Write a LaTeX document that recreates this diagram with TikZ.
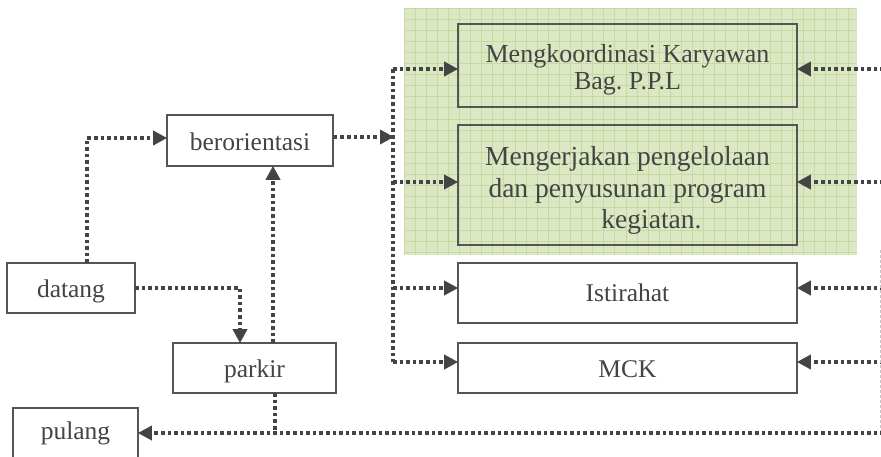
\documentclass[tikz,border=0pt]{standalone}
\usepackage{fontspec}
\setmainfont{Liberation Serif}
\usetikzlibrary{arrows.meta}
\frenchspacing

\definecolor{ink}{HTML}{444444}
\definecolor{edge}{HTML}{555555}
\definecolor{panel}{HTML}{DCE8C4}
\definecolor{panelgrid}{HTML}{C6D9A2}

% shift a label vertically without changing the box it occupies
\newcommand{\nudge}[2]{\raisebox{#1}[\height][\depth]{#2}}

\tikzset{
  stepbox/.style={draw=edge, line width=1.6pt, fill=white, text=ink,
    font=\fontsize{25.5}{30}\selectfont, inner sep=0pt, align=center},
  boxtext/.style={text=ink, inner sep=0pt, align=center},
  flow/.style={draw=ink, line width=3.6pt, dash pattern=on 3.6pt off 3pt},
  flowarrow/.style={flow, -{Triangle[length=14pt,width=14pt]}, shorten >=-1pt},
}

\begin{document}
\begin{tikzpicture}[x=1pt, y=-1pt]
  \useasboundingbox (0,0) rectangle (881,457);
  \clip (0,0) rectangle (881,457);

  % shaded panel behind the two work activities
  \fill[panel] (404,8) rectangle (857,255);
  \begin{scope}
    \clip (404,8) rectangle (857,255);
    \foreach \gx in {0,...,41} {
      \draw[panelgrid, line width=0.9pt] ({404+11.1*\gx},8) -- ({404+11.1*\gx},255);
    }
    \foreach \gy in {0,...,22} {
      \draw[panelgrid, line width=0.9pt] (404,{8+11.1*\gy}) -- (857,{8+11.1*\gy});
    }
  \end{scope}

  % activity boxes
  \node[stepbox, minimum width=166pt, minimum height=51pt] (orient) at (250,140.5) {\nudge{-1.5pt}{berorientasi}};
  \node[stepbox, minimum width=128pt, minimum height=50pt] (datang) at (71,288) {\nudge{-3pt}{datang}};
  \node[stepbox, minimum width=163pt, minimum height=50pt] (parkir) at (254.5,368) {\nudge{-3pt}{parkir}};
  \node[stepbox, minimum width=125pt, minimum height=56pt] (pulang) at (75.5,436) {\nudge{3pt}{pulang}};

  \node[stepbox, fill=none, minimum width=339pt, minimum height=83pt] (koord) at (627.5,65.5) {};
  \node[boxtext, font=\fontsize{26}{27}\selectfont] (koordText) at (627.5,70)
        {Mengkoordinasi Karyawan\\Bag. P.P.L};
  \node[stepbox, fill=none, minimum width=339pt, minimum height=120pt] (kerja) at (627.5,185) {};
  \node[boxtext, font=\fontsize{27.5}{31.5}\selectfont] (kerjaText) at (627.5,190.5)
        {Mengerjakan pengelolaan\\dan penyusunan program\\\hspace*{48pt}kegiatan.};
  \node[stepbox, minimum width=339pt, minimum height=60pt] (istirahat) at (627.5,293) {Istirahat};
  \node[stepbox, minimum width=339pt, minimum height=50pt] (mck) at (627.5,368) {\nudge{-1.5pt}{MCK}};

  % junction points of the connector runs
  \coordinate (busA) at (393,69);
  \coordinate (busB) at (393,182);
  \coordinate (busC) at (393,288);
  \coordinate (busD) at (393,362);
  \coordinate (busIn) at (393,137);
  \coordinate (rA) at (884,69);
  \coordinate (rB) at (884,182);
  \coordinate (rC) at (884,288);
  \coordinate (rD) at (884,362);
  \coordinate (rE) at (884,433);
  \coordinate (dUp) at (87,263);
  \coordinate (dTurn) at (87,138);
  \coordinate (dRight) at (135,288);
  \coordinate (pDrop) at (240,288);
  \coordinate (pUp) at (273,343);
  \coordinate (pDown) at (275,393);
  \coordinate (pJoin) at (275,433);

  % left distribution bus
  \draw[flow] (busA) -- (busD);
  \draw[flowarrow] (busA) -- (koord.west |- busA);
  \draw[flowarrow] (busB) -- (kerja.west |- busB);
  \draw[flowarrow] (busC) -- (istirahat.west |- busC);
  \draw[flowarrow] (busD) -- (mck.west |- busD);
  \draw[flowarrow] (orient.east |- busIn) -- (busIn);

  % arrivals
  \draw[flowarrow] (dUp) -- (dTurn) -- (orient.west |- dTurn);
  \draw[flowarrow] (dRight) -- (pDrop) -- (pDrop |- parkir.north);
  \draw[flowarrow] (pUp) -- (pUp |- orient.south);

  % returns from the right
  \draw[flowarrow] (rA) -- (koord.east |- rA);
  \draw[flowarrow] (rB) -- (kerja.east |- rB);
  \draw[flowarrow] (rC) -- (istirahat.east |- rC);
  \draw[flowarrow] (rD) -- (mck.east |- rD);
  \draw[gray!45, line width=0.6pt, dash pattern=on 3pt off 2pt] (880,250) -- (880,433);

  % leaving
  \draw[flow] (pDown) -- (pJoin);
  \draw[flowarrow] (rE) -- (pulang.east |- rE);
\end{tikzpicture}
\end{document}
